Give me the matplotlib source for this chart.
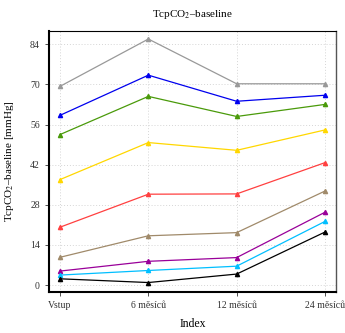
import matplotlib
matplotlib.use("Agg")
from matplotlib import pyplot as plt

# Time points (x axis categories)
labels = ["Vstup", "6 měsíců", "12 měsíců", "24 měsíců"]

# One series per patient
gray = [69.3, 85.8, 70.2, 70.2]
blue = [59.2, 73.2, 64.1, 66.2]
green = [52.5, 65.8, 58.8, 63.0]
yellow = [36.8, 49.7, 47.0, 54.1]
red = [20.2, 31.7, 31.8, 42.7]
brown = [9.7, 17.2, 18.3, 32.8]
purple = [4.9, 8.3, 9.6, 25.4]
cyan = [3.5, 5.1, 6.6, 22.2]
black = [2.2, 0.9, 3.85, 18.5]

series = [gray, blue, green, yellow, red, brown, purple, cyan, black]
colors = ["#999999", "#0000ee", "#4a9a0a", "#ffd700", "#ff4040",
          "#a08a6a", "#990099", "#00bfff", "#000000"]

plt.rcParams["font.family"] = ["Liberation Serif", "DejaVu Serif"]
plt.rcParams["mathtext.fontset"] = "stix"

fig = plt.figure(figsize=(3.45, 3.33), dpi=100)
ax = fig.add_axes([49 / 345, 1 - 292 / 333, 287 / 345, 261 / 333])

x = list(range(len(labels)))
for vals, c in zip(series, colors):
    ax.plot(x, vals, color=c, lw=0.9, marker="^", ms=3, zorder=3)

ax.set_xlim(-0.125, 3.125)
ax.set_ylim(-2.4, 88.6)
ax.set_xticks(x)
ax.set_xticklabels(labels, fontsize=7)
ax.set_yticks([0, 14, 28, 42, 56, 70, 84])
ax.tick_params(axis="y", labelsize=7, length=3, width=0.6, colors="#333333")
ax.tick_params(axis="x", length=3, width=0.6, colors="#333333")
ax.grid(True, color="#d5d5d5", ls=(0, (1, 2)), lw=0.7)

for side in ["left", "bottom"]:
    ax.spines[side].set_linewidth(1.5)
    ax.spines[side].set_color("black")
ax.spines["top"].set_linewidth(0.8)
ax.spines["right"].set_linewidth(1.0)
ax.spines["right"].set_color("#555555")

ax.set_title("TcpCO$_2$–baseline", fontsize=8, pad=10)
ax.set_ylabel("TcpCO$_2$–baseline [mmHg]", fontsize=8, labelpad=10)
ax.set_xlabel("Index", fontsize=8.5, labelpad=6)

fig.savefig("out.png", dpi=100)
